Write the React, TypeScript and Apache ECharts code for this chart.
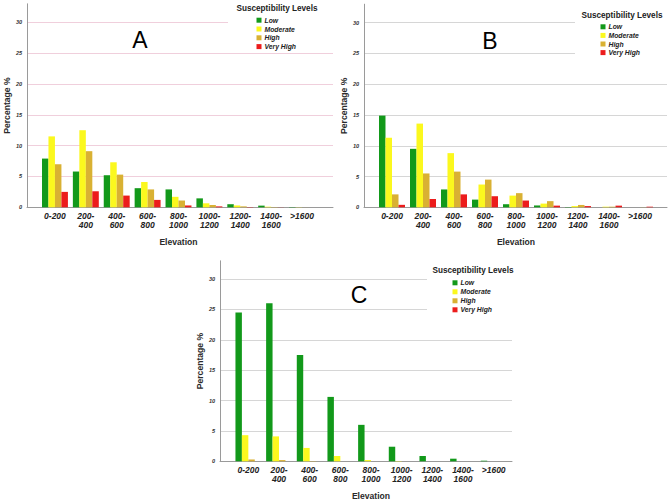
import React, { useEffect, useRef } from "react";
import * as echarts from "echarts";

// Elevation bands (m) shared by all three panels
const elevationBands = ["0-200", "200-400", "400-600", "600-800", "800-1000", "1000-1200", "1200-1400", "1400-1600", ">1600"];
const levelNames = ["Low", "Moderate", "High", "Very High"];
const levelColors = ["#12991a", "#fbf81e", "#d9b133", "#ec1c1c"];
const yTicks = [0, 5, 10, 15, 20, 25, 30];

// Panel A – percentage of each susceptibility level per elevation band
const aLow = [7.9, 5.8, 5.2, 3.1, 2.9, 1.45, 0.5, 0.27, 0.05];
const aModerate = [11.5, 12.5, 7.3, 4.1, 1.7, 0.65, 0.3, 0.1, 0.03];
const aHigh = [7.0, 9.1, 5.3, 2.9, 1.1, 0.37, 0.15, 0.05, 0.01];
const aVeryHigh = [2.5, 2.6, 1.9, 1.2, 0.3, 0.15, 0.05, 0.02, 0];

// Panel B
const bLow = [14.9, 9.5, 2.9, 1.25, 0.5, 0.3, 0.05, 0, 0];
const bModerate = [11.3, 13.6, 8.8, 3.7, 1.9, 0.6, 0.2, 0.1, 0];
const bHigh = [2.1, 5.5, 5.8, 4.5, 2.3, 1.0, 0.38, 0.1, 0.02];
const bVeryHigh = [0.4, 1.35, 2.1, 1.8, 1.1, 0.27, 0.2, 0.27, 0.1];

// Panel C
const cLow = [24.5, 26.0, 17.5, 10.6, 6.0, 2.4, 0.87, 0.43, 0.1];
const cModerate = [4.3, 4.1, 2.2, 0.87, 0.2, 0.05, 0, 0, 0];
const cHigh = [0.3, 0.2, 0.05, 0, 0, 0, 0, 0, 0];
const cVeryHigh = [0.02, 0, 0, 0, 0, 0, 0, 0, 0];

const FONT = "'Liberation Sans', Arial, sans-serif";
const Y_MAX = 33;

type Panel = {
  letter: string;
  series: number[][];
  axisX: number; // left edge of the frame (y axis line)
  frameRight: number;
  barsLeft: number;
  barsWidth: number;
  top: number;
  baseline: number;
  gridColor: string;
  yNameGap: number;
  letterPos: [number, number];
  legendTitle: [number, number];
  legendLeft: number;
  legendTop: number;
  legendRow: number;
  cover: [number, number, number, number];
};

const panels: Panel[] = [
  {
    letter: "A",
    series: [aLow, aModerate, aHigh, aVeryHigh],
    axisX: 27, frameRight: 333, barsLeft: 39.5, barsWidth: 278,
    top: 3.8, baseline: 207.3, gridColor: "#f0cfdc", yNameGap: 15,
    letterPos: [140, 40], legendTitle: [277, 8], legendLeft: 256.5, legendTop: 15.8, legendRow: 8.8,
    cover: [228, 0, 110, 45],
  },
  {
    letter: "B",
    series: [bLow, bModerate, bHigh, bVeryHigh],
    axisX: 364, frameRight: 667, barsLeft: 376.5, barsWidth: 279,
    top: 4.2, baseline: 207.3, gridColor: "#d6d6d6", yNameGap: 16,
    letterPos: [490, 40.5], legendTitle: [622, 15], legendLeft: 600.5, legendTop: 22.5, legendRow: 8.6,
    cover: [575, 0, 94, 58],
  },
  {
    letter: "C",
    series: [cLow, cModerate, cHigh, cVeryHigh],
    axisX: 220, frameRight: 512, barsLeft: 233, barsWidth: 276,
    top: 260.8, baseline: 461.3, gridColor: "#d6d6d6", yNameGap: 15,
    letterPos: [359, 295], legendTitle: [473, 270.7], legendLeft: 452.5, legendTop: 278.3, legendRow: 9,
    cover: [427, 262, 95, 51],
  },
];

const W = 669;
const H = 502;

function buildOption() {
  const grid: any[] = [];
  const xAxis: any[] = [];
  const yAxis: any[] = [];
  const series: any[] = [];
  const legend: any[] = [];
  const graphic: any[] = [];

  panels.forEach((p) => {
    const bottom = H - p.baseline;
    const frameIdx = grid.length;
    // Frame grid: y axis, gridlines and baseline
    grid.push({ left: p.axisX, right: W - p.frameRight, top: p.top, bottom });
    xAxis.push({
      gridIndex: frameIdx, type: "value", min: 0, max: 1,
      axisLine: { show: true, lineStyle: { color: "#9a9a9a", width: 1 } },
      axisTick: { show: false }, axisLabel: { show: false }, splitLine: { show: false },
    });
    yAxis.push({
      gridIndex: frameIdx, type: "value", min: 0, max: Y_MAX, interval: 5,
      name: "Percentage %", nameLocation: "middle", nameRotate: 90, nameGap: p.yNameGap,
      nameTextStyle: { fontFamily: FONT, fontSize: 8.6, fontWeight: "bold", color: "#2a2a2a" },
      axisLine: { show: true, lineStyle: { color: "#9a9a9a", width: 1 } },
      axisTick: { show: false },
      axisLabel: {
        showMaxLabel: false, margin: 5, fontFamily: FONT, fontSize: 5.5,
        fontWeight: "bold", fontStyle: "italic", color: "#333",
        formatter: (v: number) => (yTicks.includes(v) ? String(v) : ""),
      },
      splitLine: { show: true, showMinLine: false, showMaxLine: false, lineStyle: { color: p.gridColor, width: 1 } },
    });

    // Bars grid: category axis for the elevation bands
    const barIdx = grid.length;
    grid.push({ left: p.barsLeft, width: p.barsWidth, top: p.top, bottom });
    xAxis.push({
      gridIndex: barIdx, type: "category", data: elevationBands,
      name: "Elevation", nameLocation: "middle", nameGap: 30,
      nameTextStyle: { fontFamily: FONT, fontSize: 8.6, fontWeight: "bold", color: "#2a2a2a" },
      axisLine: { show: false }, axisTick: { show: false },
      axisLabel: {
        interval: 0, margin: 4, fontFamily: FONT, fontSize: 8.5, lineHeight: 9,
        fontWeight: "bold", fontStyle: "italic", color: "#222",
        formatter: (v: string) => (v.length > 5 ? v.replace("-", "-\n") : v),
      },
    });
    yAxis.push({ gridIndex: barIdx, type: "value", min: 0, max: Y_MAX, show: false, splitLine: { show: false } });

    p.series.forEach((values, i) => {
      series.push({
        type: "bar", name: levelNames[i], xAxisIndex: barIdx, yAxisIndex: barIdx,
        data: values, barGap: "0%", barCategoryGap: "16%",
        itemStyle: { color: levelColors[i] }, z: 2,
      });
    });

    legend.push({
      data: levelNames, orient: "vertical", left: p.legendLeft, top: p.legendTop,
      padding: 0, itemGap: 0, itemWidth: 5, itemHeight: 5, icon: "rect", selectedMode: false,
      textStyle: {
        fontFamily: FONT, fontSize: 6.8, lineHeight: p.legendRow, fontWeight: "bold",
        fontStyle: "italic", color: "#222", padding: [0, 0, 0, -2],
      },
    });

    // White panel behind the legend hides the gridlines it overlaps
    graphic.push({
      type: "rect", z: 1, silent: true,
      shape: { x: p.cover[0], y: p.cover[1], width: p.cover[2], height: p.cover[3] },
      style: { fill: "#ffffff" },
    });
    graphic.push({
      type: "text", z: 5, x: p.legendTitle[0], y: p.legendTitle[1],
      style: {
        text: "Susceptibility Levels", fontFamily: FONT, fontSize: 8.2, fontWeight: "bold",
        fill: "#222", align: "center", verticalAlign: "middle",
      },
    });
    graphic.push({
      type: "text", z: 5, x: p.letterPos[0], y: p.letterPos[1],
      style: {
        text: p.letter, fontFamily: FONT, fontSize: 23, fill: "#000",
        align: "center", verticalAlign: "middle",
      },
    });
  });

  return {
    animation: false,
    backgroundColor: "#ffffff",
    grid, xAxis, yAxis, series, legend, graphic,
  };
}

export default function App() {
  const ref = useRef<HTMLDivElement>(null);
  useEffect(() => {
    if (!ref.current) return;
    const chart = echarts.init(ref.current, undefined, { renderer: "svg" });
    chart.setOption(buildOption());
    return () => chart.dispose();
  }, []);
  return (
    <div
      ref={ref}
      style={{ position: "fixed", left: 0, top: 0, width: W, height: H, background: "#fff" }}
    />
  );
}
